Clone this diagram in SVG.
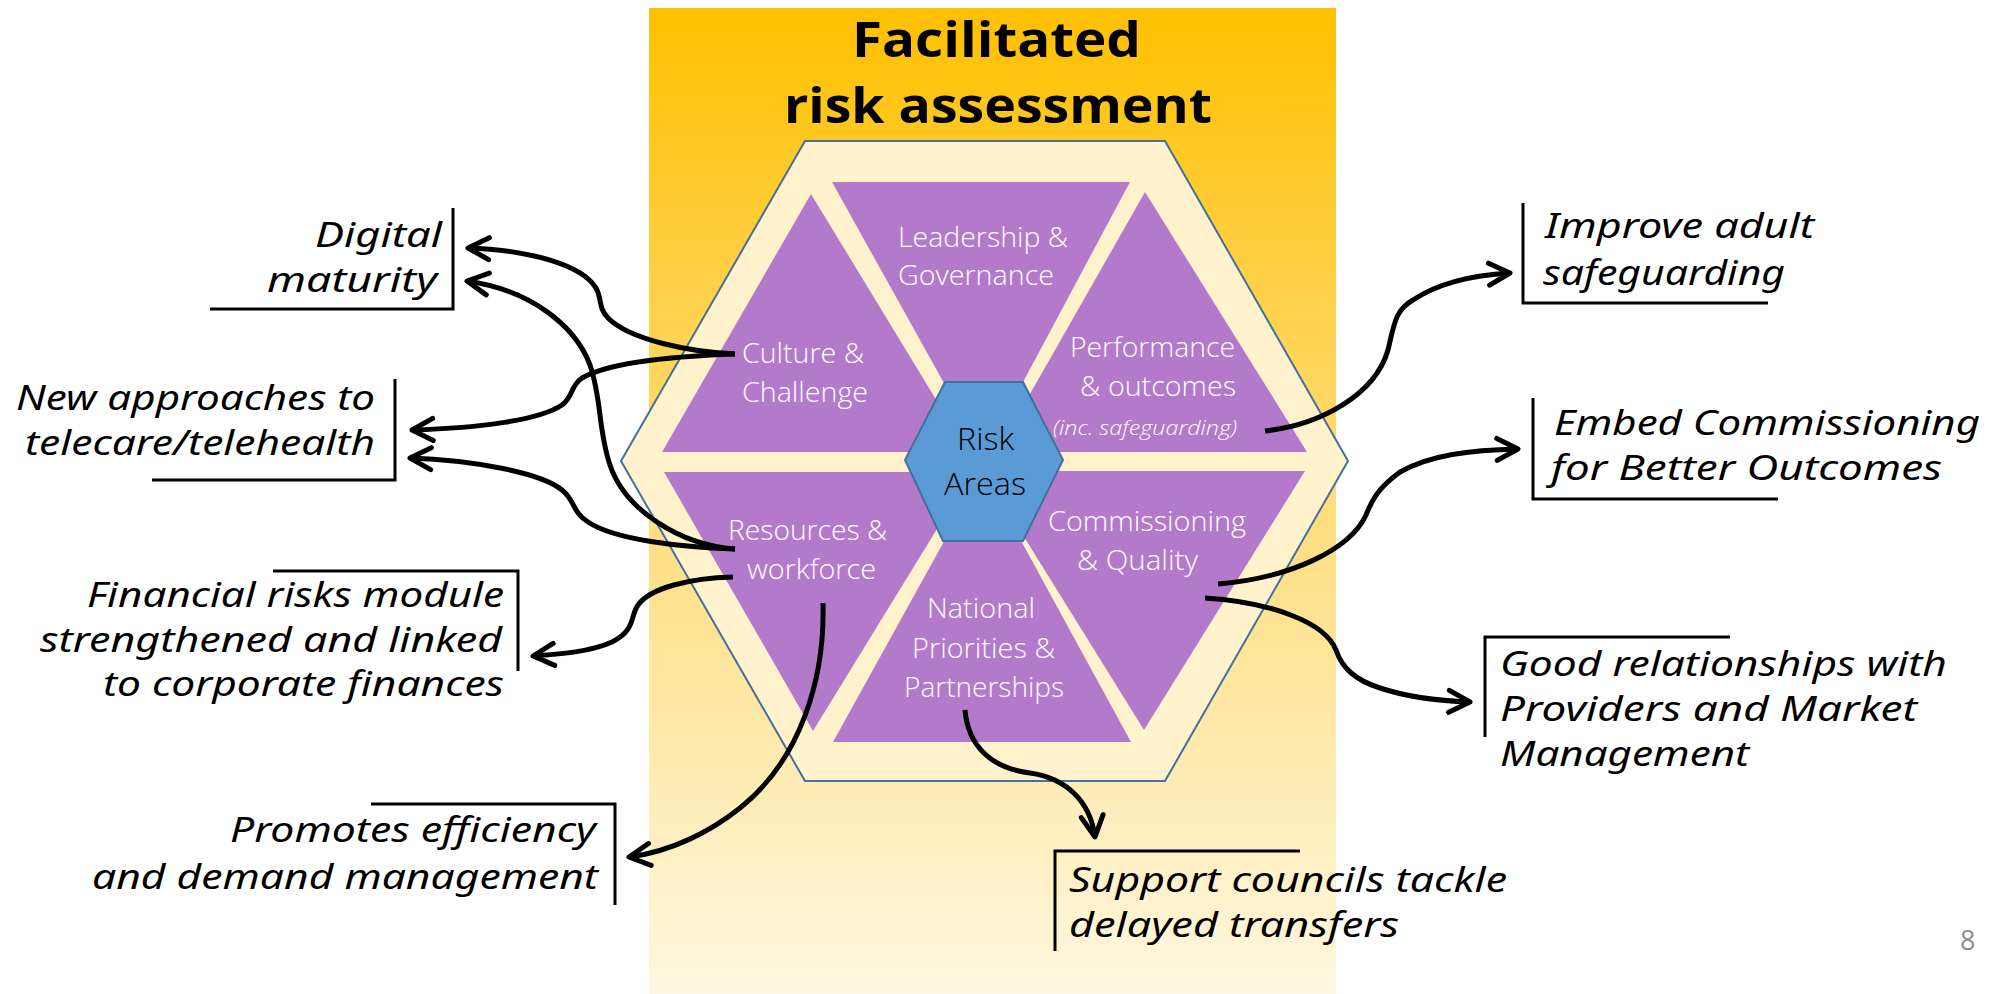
<svg xmlns="http://www.w3.org/2000/svg" width="2004" height="994" viewBox="0 0 2004 994">
<defs>
<linearGradient id="bg" x1="0" y1="0" x2="0" y2="1">
<stop offset="0" stop-color="#FFC000"/>
<stop offset="0.5" stop-color="#FFDD7C"/>
<stop offset="1" stop-color="#FFF7E0"/>
</linearGradient>
<marker id="ah" viewBox="-27 -16 31 32" refX="0" refY="0" markerWidth="31" markerHeight="32" markerUnits="userSpaceOnUse" orient="auto">
<path d="M-21,-11 L0,0 L-21,11" fill="none" stroke="#000" stroke-width="5" stroke-linecap="round" stroke-linejoin="round"/>
</marker>
<style>
.tri{fill:#B37ACB;}
.in{font-family:"Open Sans","Noto Sans",sans-serif;font-weight:300;font-size:28px;fill:#FFFFFF;}
.lab{font-family:"Noto Sans","Open Sans",sans-serif;font-style:italic;font-size:35px;fill:#000;}
.br{fill:none;stroke:#000;stroke-width:3;}
.con{fill:none;stroke:#000;stroke-width:5;marker-end:url(#ah);}
.title{font-family:"Open Sans","Noto Sans",sans-serif;font-weight:700;font-size:48px;fill:#000;}
</style>
</defs>
<rect x="0" y="0" width="2004" height="994" fill="#FFFFFF"/>
<rect id="panel" x="649" y="8" width="687" height="986" fill="url(#bg)"/>
<g id="title">
<text class="title" x="852" y="57" textLength="289" lengthAdjust="spacingAndGlyphs">Facilitated</text>
<text class="title" x="784" y="123" textLength="428" lengthAdjust="spacingAndGlyphs">risk assessment</text>
</g>
<g id="hexagon">
<polygon points="805,141 1165,141 1348,461 1165,781 805,781 621,461" fill="#FFF2CC" stroke="#41719C" stroke-width="2"/>
</g>
<g id="leadership">
<polygon class="tri" points="832,182 1130,182 984,455"/>
<text class="in" x="898" y="247" textLength="170" lengthAdjust="spacingAndGlyphs">Leadership &amp;</text>
<text class="in" x="898" y="285" textLength="156" lengthAdjust="spacingAndGlyphs">Governance</text>
</g>
<g id="culture">
<polygon class="tri" points="811,194 662,452 968,452"/>
<text class="in" x="742" y="363" textLength="122" lengthAdjust="spacingAndGlyphs">Culture &amp;</text>
<text class="in" x="742" y="402" textLength="126" lengthAdjust="spacingAndGlyphs">Challenge</text>
</g>
<g id="performance">
<polygon class="tri" points="1145,192 997,452 1307,452"/>
<text class="in" x="1070" y="357" textLength="165" lengthAdjust="spacingAndGlyphs">Performance</text>
<text class="in" x="1080" y="396" textLength="156" lengthAdjust="spacingAndGlyphs">&amp; outcomes</text>
<text class="in" x="1053" y="435" style="font-size:20px;font-style:italic" textLength="184" lengthAdjust="spacingAndGlyphs">(inc. safeguarding)</text>
</g>
<g id="resources">
<polygon class="tri" points="664,472 972,472 813,731"/>
<text class="in" x="728" y="540" textLength="159" lengthAdjust="spacingAndGlyphs">Resources &amp;</text>
<text class="in" x="747" y="579" textLength="129" lengthAdjust="spacingAndGlyphs">workforce</text>
</g>
<g id="commissioning">
<polygon class="tri" points="983,471 1305,471 1144,730"/>
<text class="in" x="1048" y="531" textLength="198" lengthAdjust="spacingAndGlyphs">Commissioning</text>
<text class="in" x="1077" y="570" textLength="121" lengthAdjust="spacingAndGlyphs">&amp; Quality</text>
</g>
<g id="national">
<polygon class="tri" points="983,471 833,742 1131,742"/>
<text class="in" x="927" y="618" textLength="108" lengthAdjust="spacingAndGlyphs">National</text>
<text class="in" x="912" y="658" textLength="143" lengthAdjust="spacingAndGlyphs">Priorities &amp;</text>
<text class="in" x="904" y="697" textLength="160" lengthAdjust="spacingAndGlyphs">Partnerships</text>
</g>
<g id="risk-areas">
<polygon points="945,382 1023,382 1063,460 1023,541 943,541 905,460" fill="#5B9BD5" stroke="#41719C" stroke-width="2"/>
<text x="957" y="450" style="font-family:'Open Sans','Noto Sans',sans-serif;font-weight:300;font-size:32px;fill:#000" textLength="57" lengthAdjust="spacingAndGlyphs">Risk</text>
<text x="944" y="495" style="font-family:'Open Sans','Noto Sans',sans-serif;font-weight:300;font-size:32px;fill:#000" textLength="82" lengthAdjust="spacingAndGlyphs">Areas</text>
</g>
<g id="digital-maturity">
<path class="br" d="M453,208 V309 H210"/>
<text class="lab" x="315" y="247" textLength="127" lengthAdjust="spacingAndGlyphs">Digital</text>
<text class="lab" x="267" y="292" textLength="170" lengthAdjust="spacingAndGlyphs">maturity</text>
</g>
<g id="new-approaches">
<path class="br" d="M395,379 V480 H152"/>
<text class="lab" x="16" y="410" textLength="359" lengthAdjust="spacingAndGlyphs">New approaches to</text>
<text class="lab" x="25" y="455" textLength="350" lengthAdjust="spacingAndGlyphs">telecare/telehealth</text>
</g>
<g id="financial-risks">
<path class="br" d="M273,571 H518 V671"/>
<text class="lab" x="87" y="607" textLength="417" lengthAdjust="spacingAndGlyphs">Financial risks module</text>
<text class="lab" x="40" y="652" textLength="462" lengthAdjust="spacingAndGlyphs">strengthened and linked</text>
<text class="lab" x="103" y="696" textLength="401" lengthAdjust="spacingAndGlyphs">to corporate finances</text>
</g>
<g id="promotes-efficiency">
<path class="br" d="M371,804 H615 V905"/>
<text class="lab" x="230" y="842" textLength="366" lengthAdjust="spacingAndGlyphs">Promotes efficiency</text>
<text class="lab" x="92" y="889" textLength="506" lengthAdjust="spacingAndGlyphs">and demand management</text>
</g>
<g id="improve-safeguarding">
<path class="br" d="M1523,203 V303 H1768"/>
<text class="lab" x="1545" y="238" textLength="269" lengthAdjust="spacingAndGlyphs">Improve adult</text>
<text class="lab" x="1543" y="285" textLength="242" lengthAdjust="spacingAndGlyphs">safeguarding</text>
</g>
<g id="embed-commissioning">
<path class="br" d="M1533,398 V499 H1778"/>
<text class="lab" x="1554" y="435" textLength="426" lengthAdjust="spacingAndGlyphs">Embed Commissioning</text>
<text class="lab" x="1551" y="480" textLength="391" lengthAdjust="spacingAndGlyphs">for Better Outcomes</text>
</g>
<g id="good-relationships">
<path class="br" d="M1730,637 H1485 V737"/>
<text class="lab" x="1500" y="676" textLength="447" lengthAdjust="spacingAndGlyphs">Good relationships with</text>
<text class="lab" x="1500" y="721" textLength="417" lengthAdjust="spacingAndGlyphs">Providers and Market</text>
<text class="lab" x="1500" y="766" textLength="249" lengthAdjust="spacingAndGlyphs">Management</text>
</g>
<g id="support-councils">
<path class="br" d="M1300,851 H1055 V951"/>
<text class="lab" x="1069" y="892" textLength="438" lengthAdjust="spacingAndGlyphs">Support councils tackle</text>
<text class="lab" x="1069" y="937" textLength="330" lengthAdjust="spacingAndGlyphs">delayed transfers</text>
</g>
<g id="connectors">
<path class="con" d="M735,354 C690,352 630,340 608,318 C598,308 602,298 596,288 C582,265 530,250 468,248"/>
<path class="con" d="M735,354 C680,356 610,362 582,378 C570,386 574,396 562,405 C540,420 480,428 412,430"/>
<path class="con" d="M735,549 C680,545 625,510 610,465 C598,430 602,400 590,365 C575,325 530,290 467,281"/>
<path class="con" d="M735,549 C680,547 615,540 588,522 C572,512 575,500 562,490 C540,472 470,460 410,458"/>
<path class="con" d="M733,577 C690,578 650,588 638,605 C630,616 636,630 612,642 C590,652 560,654 533,656"/>
<path class="con" d="M823,603 C825,680 800,760 740,808 C710,832 670,852 629,857"/>
<path class="con" d="M965,710 C968,745 990,768 1030,773 C1065,778 1090,800 1095,837"/>
<path class="con" d="M1265,431 C1320,425 1375,395 1388,350 C1394,325 1395,310 1413,300 C1440,282 1475,275 1510,273"/>
<path class="con" d="M1218,584 C1290,578 1350,550 1366,515 C1372,500 1378,488 1400,472 C1430,455 1470,450 1518,449"/>
<path class="con" d="M1205,598 C1270,602 1325,622 1336,650 C1342,668 1355,680 1380,688 C1410,698 1440,701 1470,702"/>
</g>
<text id="page-number" x="1960" y="950" style="font-family:'Open Sans','Noto Sans',sans-serif;font-size:27px;fill:#8C8C8C">8</text>
</svg>
